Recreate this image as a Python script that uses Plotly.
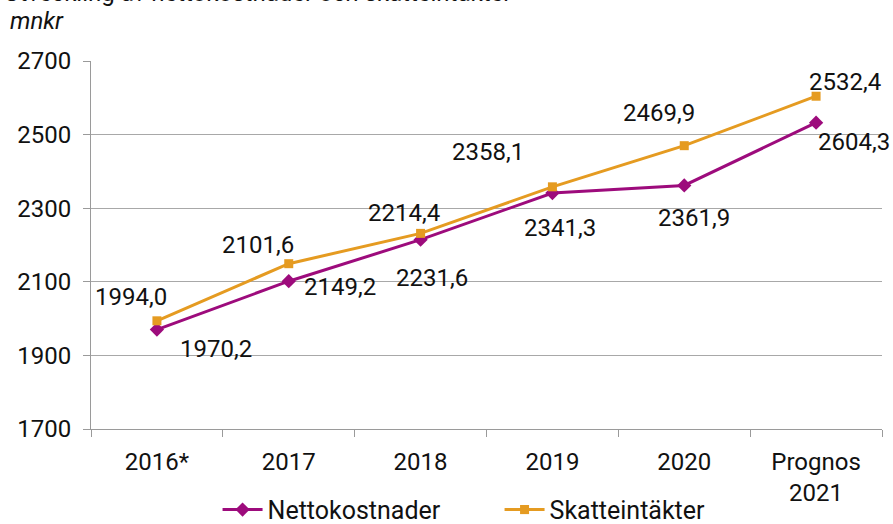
import plotly.graph_objects as go

categories = ["2016*", "2017", "2018", "2019", "2020", "Prognos<br>2021"]
netto = [1970.2, 2101.6, 2214.4, 2341.3, 2361.9, 2532.4]
skatt = [1994.0, 2149.2, 2231.6, 2358.1, 2469.9, 2604.3]
netto_labels = ["1970,2", "2149,2", "2231,6", "2341,3", "2361,9", "2604,3"]
skatt_labels = ["1994,0", "2101,6", "2214,4", "2358,1", "2469,9", "2532,4"]
y_ticks = [1700, 1900, 2100, 2300, 2500, 2700]

PURPLE = "#9D0B7C"
ORANGE = "#E59B21"
FONT = "Roboto"
FS = 24

# label offsets (px) relative to points
netto_off = [(59, -19), (51, -6), (11, -38), (8, -35), (10, -33), (38, -19)]
skatt_off = [(-26, 24), (-31, 19), (-17, 20), (-64, 35), (-25, 33), (29, 14)]

fig = go.Figure()
fig.add_trace(go.Scatter(x=categories, y=netto, name="Nettokostnader", mode="lines+markers",
                         line=dict(color=PURPLE, width=3),
                         marker=dict(symbol="diamond", size=11, color=PURPLE)))
fig.add_trace(go.Scatter(x=categories, y=skatt, name="Skatteintäkter", mode="lines+markers",
                         line=dict(color=ORANGE, width=3),
                         marker=dict(symbol="square", size=9, color=ORANGE)))

anns = []
for i, c in enumerate(categories):
    dx, dy = netto_off[i]
    anns.append(dict(x=i, y=netto[i], text=netto_labels[i], showarrow=False,
                     xshift=dx, yshift=dy, font=dict(size=FS, color="#111", family=FONT)))
    dx, dy = skatt_off[i]
    anns.append(dict(x=i, y=skatt[i], text=skatt_labels[i], showarrow=False,
                     xshift=dx, yshift=dy, font=dict(size=FS, color="#111", family=FONT)))

anns.append(dict(xref="paper", yref="paper", x=-0.112, y=1.186, xanchor="left", yanchor="middle",
                 text="Utveckling av nettokostnader och skatteintäkter", showarrow=False,
                 font=dict(size=24, color="#111", family=FONT)))
anns.append(dict(xref="paper", yref="paper", x=-0.105, y=1.108, xanchor="left", yanchor="middle",
                 text="<i>mnkr</i>", showarrow=False,
                 font=dict(size=FS, color="#111", family=FONT)))

fig.update_layout(
    width=893, height=524,
    margin=dict(l=91, r=11, t=61, b=95, autoexpand=False),
    paper_bgcolor="white", plot_bgcolor="white",
    font=dict(family=FONT, size=FS, color="#111"),
    showlegend=True,
    legend=dict(orientation="h", x=0.16, xanchor="left", y=0.027, yref="container",
                yanchor="middle", font=dict(size=25, family=FONT, color="#111"),
                bgcolor="rgba(0,0,0,0)",
                entrywidth=227, entrywidthmode="pixels", itemwidth=40, tracegroupgap=0),
    annotations=anns,
)
fig.update_xaxes(type="category", range=[-0.5, 5.5], automargin=False, tickangle=0,
                 showline=True, linecolor="#9A9A9A", linewidth=1,
                 ticks="outside", tickson="boundaries", ticklen=7, tickcolor="#9A9A9A",
                 ticklabelstandoff=11,
                 showgrid=False, tickfont=dict(size=FS, family=FONT, color="#111"))
fig.update_yaxes(range=[1700, 2700], tickvals=y_ticks, automargin=False, showline=True,
                 linecolor="#9A9A9A", ticklabelstandoff=7,
                 linewidth=1, ticks="outside", ticklen=7, tickcolor="#9A9A9A",
                 showgrid=True, gridcolor="#A8A8A8", gridwidth=1, zeroline=False,
                 tickfont=dict(size=FS, family=FONT, color="#111"))

fig.write_html("out.html")
